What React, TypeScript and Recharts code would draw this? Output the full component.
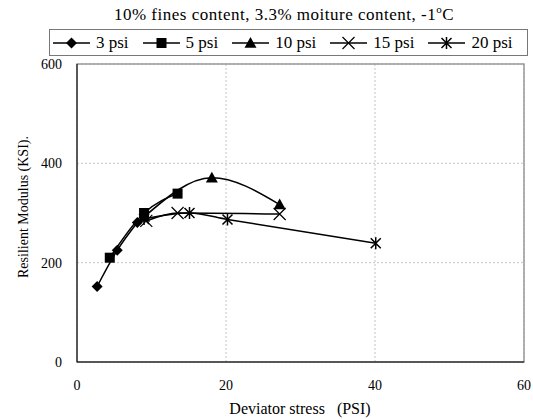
import React from "react";
import { LineChart, Line, XAxis, YAxis, CartesianGrid, ReferenceArea } from "recharts";

const seriesNames = ["3 psi", "5 psi", "10 psi", "15 psi", "20 psi"];
const x3 = [2.7, 5.4, 8.1];
const y3 = [152, 225, 281];
const x5 = [4.4, 9.0, 13.5];
const y5 = [210, 300, 339];
const x10 = [9.0, 18.1, 27.2];
const y10 = [292, 371, 317];
const x15 = [9.3, 13.5, 27.2];
const y15 = [284, 300, 298];
const x20 = [9.0, 15.1, 20.2, 40.1];
const y20 = [288, 300, 287, 239];
const xTicks = [0, 20, 40, 60];
const yTicks = [0, 200, 400, 600];

const toPts = (xs: number[], ys: number[]) => xs.map((x, i) => ({ x, y: ys[i] }));

const FONT = "Liberation Serif, Times New Roman, Times, DejaVu Serif, Noto Serif, serif";

const Diamond = (p: any) => {
  const { cx, cy } = p;
  if (cx == null || cy == null) return null;
  const s = 5.5;
  return <path d={`M${cx},${cy - s}L${cx + s},${cy}L${cx},${cy + s}L${cx - s},${cy}Z`} fill="#000" />;
};
const Square = (p: any) => {
  const { cx, cy } = p;
  if (cx == null || cy == null) return null;
  const s = 5;
  return <rect x={cx - s} y={cy - s} width={2 * s} height={2 * s} fill="#000" />;
};
const Triangle = (p: any) => {
  const { cx, cy } = p;
  if (cx == null || cy == null) return null;
  const s = 6;
  return <path d={`M${cx},${cy - s}L${cx + s},${cy + s * 0.8}L${cx - s},${cy + s * 0.8}Z`} fill="#000" />;
};
const Cross = (p: any) => {
  const { cx, cy } = p;
  if (cx == null || cy == null) return null;
  const s = 6;
  return <path d={`M${cx - s},${cy - s}L${cx + s},${cy + s}M${cx - s},${cy + s}L${cx + s},${cy - s}`} stroke="#000" strokeWidth={1.2} fill="none" />;
};
const Star = (p: any) => {
  const { cx, cy } = p;
  if (cx == null || cy == null) return null;
  const s = 5;
  return <path d={`M${cx - s},${cy - s}L${cx + s},${cy + s}M${cx - s},${cy + s}L${cx + s},${cy - s}M${cx},${cy - s - 1}L${cx},${cy + s + 1}`} stroke="#000" strokeWidth={1.5} fill="none" />;
};

const markers = [Diamond, Square, Triangle, Cross, Star];

const Header = () => (
  <div style={{ position: "absolute", left: 0, top: 0, width: 533, fontFamily: FONT, color: "#000", pointerEvents: "none" }}>
    <div style={{ position: "absolute", left: 0, top: 4, width: 568, textAlign: "center", fontSize: 17, letterSpacing: 0.5, lineHeight: "22px" }}>
      10% fines content, 3.3% moiture content, -1<sup style={{ fontSize: 11, lineHeight: 0 }}>o</sup>C
    </div>
    <div
      style={{
        position: "absolute",
        left: 49,
        top: 29,
        width: 479,
        height: 27,
        border: "1.5px solid #777",
        display: "flex",
        alignItems: "center",
        fontSize: 17,
        boxSizing: "border-box",
        paddingLeft: 3,
      }}
    >
      {seriesNames.map((n, i) => {
        const M = markers[i];
        return (
          <div key={n} style={{ display: "flex", alignItems: "center", marginRight: 14 }}>
            <svg width={37} height={16}>
              <line x1={0} y1={8} x2={37} y2={8} stroke="#000" strokeWidth={1.5} />
              <M cx={18.5} cy={8} />
            </svg>
            <span style={{ marginLeft: 6 }}>{n}</span>
          </div>
        );
      })}
    </div>
  </div>
);

const YLabel = () => (
  <text x={25} y={207} transform="rotate(-90 25 207)" textAnchor="middle" dominantBaseline="middle" style={{ fontFamily: FONT }} fontSize={14} fill="#000">
    Resilient Modulus (KSI).
  </text>
);

const XLabel = () => (
  <text x={300} y={410} textAnchor="middle" dominantBaseline="middle" style={{ fontFamily: FONT }} fontSize={16} fill="#000">
    {"Deviator stress\u00a0\u00a0\u00a0(PSI)"}
  </text>
);

const series = [toPts(x3, y3), toPts(x5, y5), toPts(x10, y10), toPts(x15, y15), toPts(x20, y20)];

export default function App() {
  return (
    <div style={{ position: "absolute", left: 0, top: 0, width: 533, height: 419, background: "#fff", fontFamily: FONT }}>
      <LineChart width={533} height={419} margin={{ top: 64, right: 9, bottom: 27, left: 27 }} style={{ fontFamily: FONT }}>
        <CartesianGrid stroke="#c4c4c4" strokeDasharray="2 2" />
        <ReferenceArea x1={0} x2={60} y1={0} y2={600} fill="none" stroke="#999" strokeWidth={1.5} ifOverflow="visible" />
        <XAxis
          type="number"
          dataKey="x"
          domain={[0, 60]}
          ticks={xTicks}
          allowDataOverflow
          stroke="#000"
          tickLine={false}
          tick={{ fill: "#000", style: { fontFamily: FONT }, fontSize: 14 }}
          tickMargin={12}
          height={30}
          label={<XLabel />}
        />
        <YAxis
          type="number"
          dataKey="y"
          domain={[0, 600]}
          ticks={yTicks}
          allowDataOverflow
          stroke="#000"
          tickLine={false}
          tick={{ fill: "#000", style: { fontFamily: FONT }, fontSize: 14 }}
          tickMargin={9}
          width={50}
          label={<YLabel />}
        />
        {series.map((d, i) => (
          <Line
            key={seriesNames[i]}
            data={d}
            dataKey="y"
            name={seriesNames[i]}
            type="monotone"
            stroke="#000"
            strokeWidth={1.5}
            dot={markers[i]}
            activeDot={false}
            isAnimationActive={false}
          />
        ))}
      </LineChart>
      <Header />
    </div>
  );
}
